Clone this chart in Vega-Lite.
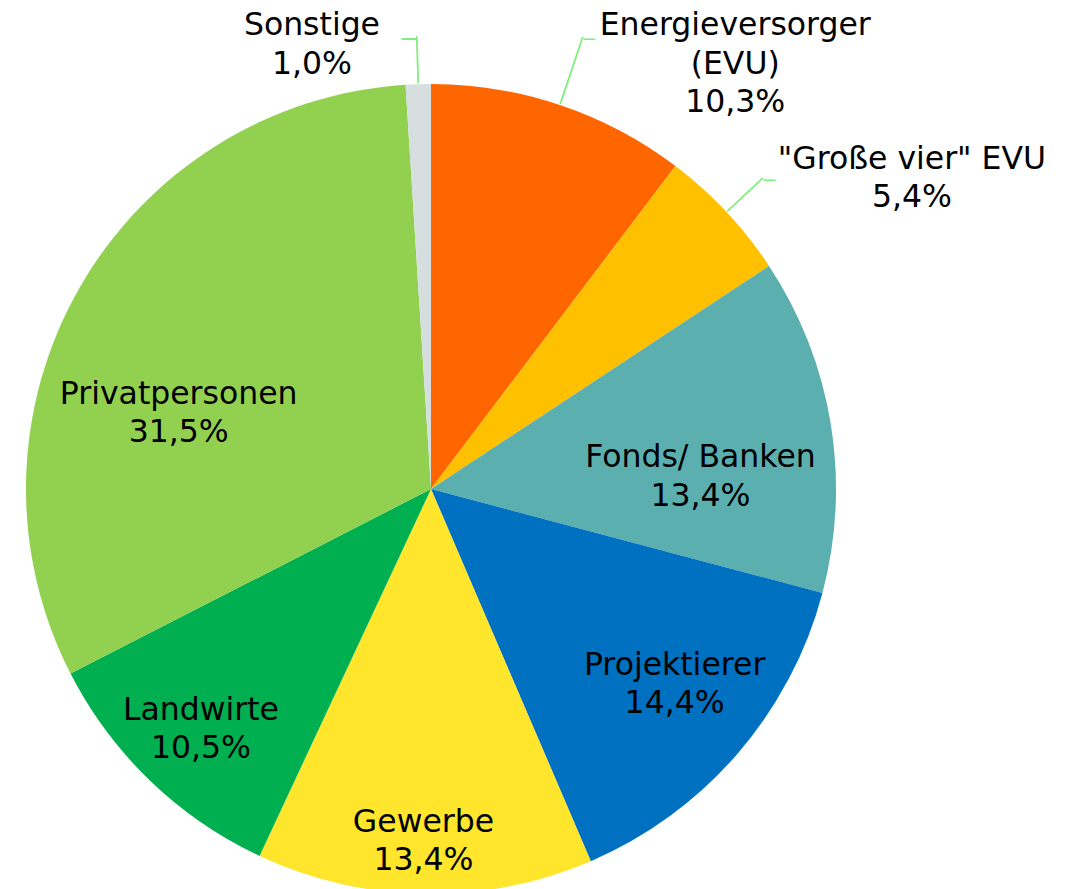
{
  "$schema": "https://vega.github.io/schema/vega-lite/v6.json",
  "width": 1074,
  "height": 889,
  "autosize": {"type": "none"},
  "padding": 0,
  "background": "white",
  "config": {"view": {"stroke": null}, "text": {"font": "DejaVu Sans", "fontSize": 31.5, "lineHeight": 38.5, "lineBreak": "\n", "align": "center", "baseline": "middle", "color": "black"}},
  "data": {"values": [
    {"idx": 1, "group": "Energieversorger (EVU)", "label": "Energieversorger\n(EVU)\n10,3%", "value": 10.3},
    {"idx": 2, "group": "\"Große vier\" EVU", "label": "\"Große vier\" EVU\n5,4%", "value": 5.4},
    {"idx": 3, "group": "Fonds/ Banken", "label": "Fonds/ Banken\n13,4%", "value": 13.4},
    {"idx": 4, "group": "Projektierer", "label": "Projektierer\n14,4%", "value": 14.4},
    {"idx": 5, "group": "Gewerbe", "label": "Gewerbe\n13,4%", "value": 13.4},
    {"idx": 6, "group": "Landwirte", "label": "Landwirte\n10,5%", "value": 10.5},
    {"idx": 7, "group": "Privatpersonen", "label": "Privatpersonen\n31,5%", "value": 31.5},
    {"idx": 8, "group": "Sonstige", "label": "Sonstige\n1,0%", "value": 1.0}
  ]},
  "encoding": {
    "theta": {"field": "value", "type": "quantitative", "stack": true},
    "order": {"field": "idx", "type": "quantitative"},
    "x": {"value": 431},
    "y": {"value": 489}
  },
  "layer": [
    {
      "mark": {"type": "arc", "radius": 405, "stroke": null},
      "encoding": {
        "color": {
          "field": "group", "type": "nominal", "legend": null,
          "scale": {
            "domain": ["Energieversorger (EVU)", "\"Große vier\" EVU", "Fonds/ Banken", "Projektierer", "Gewerbe", "Landwirte", "Privatpersonen", "Sonstige"],
            "range": ["#FF6600", "#FFC000", "#5BAFAF", "#0070C0", "#FFE52C", "#00B050", "#92D050", "#D6DEE0"]
          }
        }
      }
    },
    {
      "mark": {"type": "arc", "radius": 477, "radius2": 406, "padAngle": 0.8, "fill": null, "stroke": "#7FEF7F", "strokeWidth": 1.8},
      "encoding": {"strokeOpacity": {"condition": {"test": "datum.idx == 1", "value": 1}, "value": 0}}
    },
    {
      "mark": {"type": "arc", "radius": 455, "radius2": 406, "padAngle": 0.8, "fill": null, "stroke": "#7FEF7F", "strokeWidth": 1.8},
      "encoding": {"strokeOpacity": {"condition": {"test": "datum.idx == 2", "value": 1}, "value": 0}}
    },
    {
      "mark": {"type": "arc", "radius": 453, "radius2": 406, "padAngle": 0.8, "fill": null, "stroke": "#7FEF7F", "strokeWidth": 1.8},
      "encoding": {"strokeOpacity": {"condition": {"test": "datum.idx == 8", "value": 1}, "value": 0}}
    },
    {
      "mark": {"type": "text", "radius": 477, "align": "left", "fontSize": 13, "fontWeight": "bold", "color": "#7FEF7F", "dy": 2},
      "encoding": {"text": {"condition": {"test": "datum.idx == 1", "value": "—"}, "value": ""}}
    },
    {
      "mark": {"type": "text", "radius": 455, "align": "left", "fontSize": 13, "fontWeight": "bold", "color": "#7FEF7F", "dy": 2},
      "encoding": {"text": {"condition": {"test": "datum.idx == 2", "value": "—"}, "value": ""}}
    },
    {
      "mark": {"type": "text", "radius": 453, "align": "right", "fontSize": 16, "fontWeight": "bold", "color": "#7FEF7F", "dy": 2},
      "encoding": {"text": {"condition": {"test": "datum.idx == 8", "value": "—"}, "value": ""}}
    },
    {
      "mark": {"type": "text", "radius": 450, "dx": 161, "dy": -36},
      "encoding": {"text": {"condition": {"test": "datum.idx == 1", "field": "label"}, "value": ""}}
    },
    {
      "mark": {"type": "text", "radius": 455, "dx": 149, "dy": -18},
      "encoding": {"text": {"condition": {"test": "datum.idx == 2", "field": "label"}, "value": ""}}
    },
    {
      "mark": {"type": "text", "radius": 270, "dx": 3, "dy": 13},
      "encoding": {"text": {"condition": {"test": "datum.idx == 3", "field": "label"}, "value": ""}}
    },
    {
      "mark": {"type": "text", "radius": 310, "dx": 9, "dy": -26},
      "encoding": {"text": {"condition": {"test": "datum.idx == 4", "field": "label"}, "value": ""}}
    },
    {
      "mark": {"type": "text", "radius": 350, "dx": -2, "dy": -16},
      "encoding": {"text": {"condition": {"test": "datum.idx == 5", "field": "label"}, "value": ""}}
    },
    {
      "mark": {"type": "text", "radius": 330, "dx": -1, "dy": -16},
      "encoding": {"text": {"condition": {"test": "datum.idx == 6", "field": "label"}, "value": ""}}
    },
    {
      "mark": {"type": "text", "radius": 265, "dx": -22, "dy": 37},
      "encoding": {"text": {"condition": {"test": "datum.idx == 7", "field": "label"}, "value": ""}}
    },
    {
      "mark": {"type": "text", "radius": 447, "dx": -105, "dy": -16},
      "encoding": {"text": {"condition": {"test": "datum.idx == 8", "field": "label"}, "value": ""}}
    }
  ]
}
